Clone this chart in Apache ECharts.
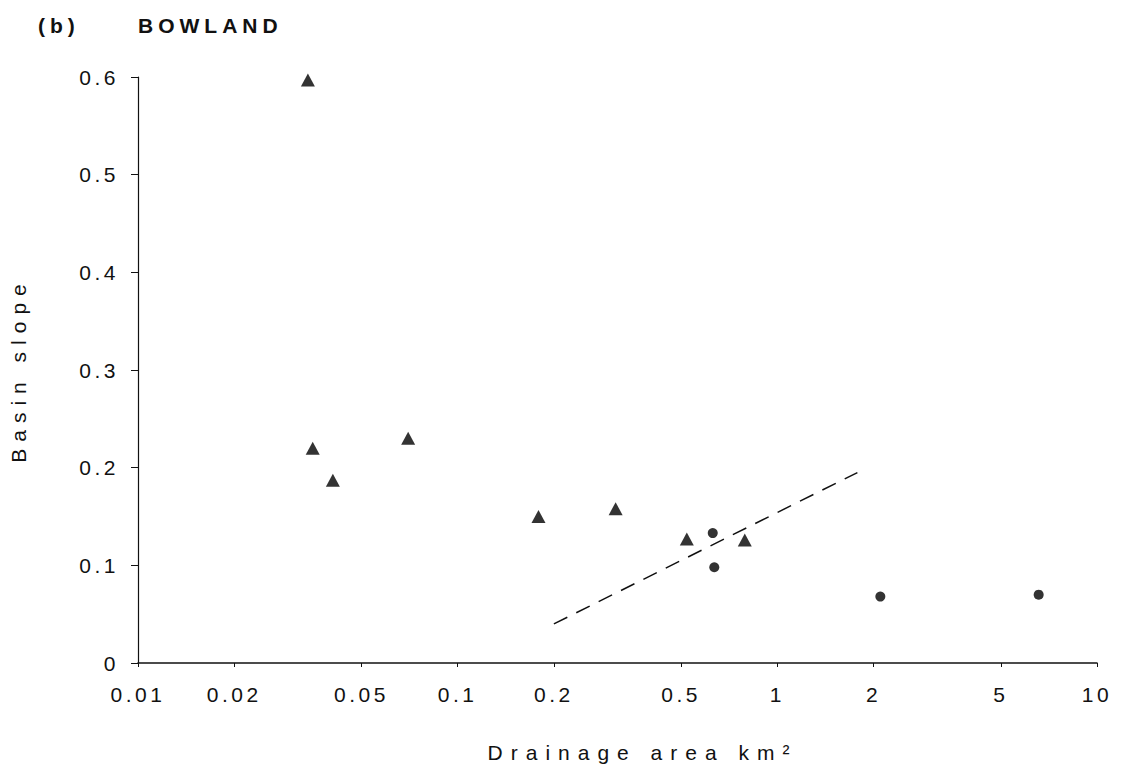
<!DOCTYPE html>
<html>
<head>
<meta charset="utf-8">
<script src="https://cdn.jsdelivr.net/npm/echarts@6/dist/echarts.min.js"></script>
<style>
html,body{margin:0;padding:0;background:#fff;}
#chart{width:1148px;height:782px;}
</style>
</head>
<body>
<div id="chart"></div>
<script>
// Data
const triangleArea  = [0.034, 0.0352, 0.0407, 0.070, 0.179, 0.312, 0.521, 0.791];
const triangleSlope = [0.597, 0.220, 0.187, 0.230, 0.150, 0.158, 0.127, 0.126];
const circleArea    = [0.628, 0.635, 2.1, 6.57];
const circleSlope   = [0.133, 0.098, 0.068, 0.070];
const lineArea      = [0.2, 1.78];
const lineSlope     = [0.040, 0.195];
const xTicks = [0.01, 0.02, 0.05, 0.1, 0.2, 0.5, 1, 2, 5, 10];

const zip = (a, b) => a.map((v, i) => [v, b[i]]);
const font = '"Liberation Sans", Arial, Helvetica, sans-serif';
const ink = '#111';

const chart = echarts.init(document.getElementById('chart'), null, {renderer: 'svg'});
chart.setOption({
  backgroundColor: '#fff',
  animation: false,
  title: [
    {text: '(b)', left: 38, top: 15, padding: 0, textStyle: {fontFamily: font, fontWeight: 'bold', fontSize: 21, color: ink}},
    {text: 'BOWLAND', left: 138, top: 15, padding: 0, textStyle: {fontFamily: font, fontWeight: 'bold', fontSize: 21, color: ink}}
  ],
  grid: {left: 138, right: 51, top: 77, bottom: 119, containLabel: false},
  xAxis: {
    type: 'log',
    logBase: 10,
    min: 0.01,
    max: 10,
    name: 'Drainage area km²',
    nameLocation: 'middle',
    nameGap: 79,
    nameTextStyle: {fontFamily: font, fontSize: 21, color: ink, padding: [0, 0, 0, 50]},
    axisLine: {lineStyle: {color: ink, width: 1.5}},
    axisTick: {show: true, length: 4, inside: false, customValues: xTicks, lineStyle: {color: ink}},
    minorTick: {show: false},
    splitLine: {show: false},
    axisLabel: {
      customValues: xTicks,
      margin: 21,
      fontFamily: font, fontSize: 21, color: ink,
      formatter: v => String(+(+v).toPrecision(3))
    }
  },
  yAxis: {
    type: 'value',
    min: 0,
    max: 0.6,
    interval: 0.1,
    name: 'Basin slope',
    nameLocation: 'middle',
    nameGap: 109,
    nameRotate: 90,
    nameTextStyle: {fontFamily: font, fontSize: 21, color: ink},
    axisLine: {show: true, lineStyle: {color: ink, width: 1.2}},
    axisTick: {show: true, length: 7, lineStyle: {color: ink}},
    splitLine: {show: false},
    axisLabel: {
      margin: 19,
      fontFamily: font, fontSize: 21, color: ink,
      formatter: v => (v === 0 ? '0' : (+v).toFixed(1))
    }
  },
  series: [
    {
      type: 'line',
      data: zip(lineArea, lineSlope),
      showSymbol: false,
      symbol: 'none',
      lineStyle: {color: ink, width: 1.5, type: [15, 10]},
      z: 1
    },
    {
      type: 'scatter',
      data: zip(triangleArea, triangleSlope),
      symbol: 'triangle',
      symbolSize: [14, 13],
      itemStyle: {color: '#000'},
      z: 3
    },
    {
      type: 'scatter',
      data: zip(circleArea, circleSlope),
      symbol: 'circle',
      symbolSize: 10,
      itemStyle: {color: '#000'},
      z: 3
    }
  ]
});

// Wide tracking of the figure lettering
function track() {
  document.querySelectorAll('#chart svg text').forEach(t => {
    const s = t.textContent.trim();
    let sp = '3.5px';
    if (s.indexOf('Drainage') === 0) sp = '8px';
    else if (s === 'Basin slope') sp = '7px';
    else if (s === '(b)' || s === 'BOWLAND') sp = '5px';
    t.style.letterSpacing = sp;
  });
}
track();
chart.on('finished', track);
</script>
</body>
</html>
